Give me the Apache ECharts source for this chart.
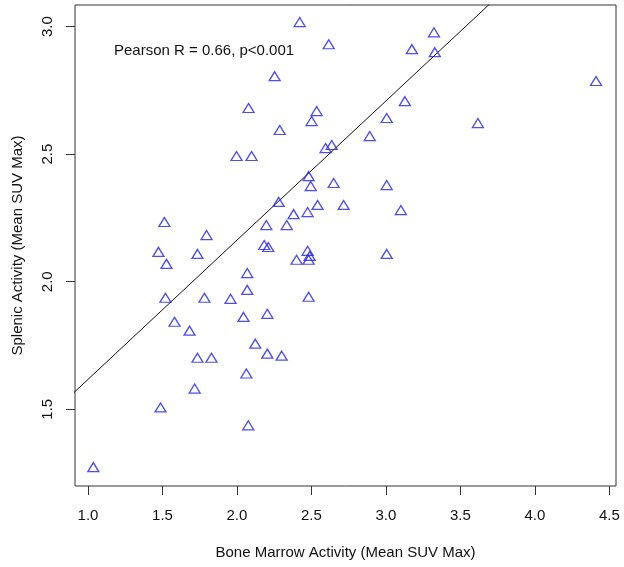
<!DOCTYPE html>
<html>
<head>
<meta charset="utf-8">
<script src="https://cdn.jsdelivr.net/npm/echarts@6/dist/echarts.min.js"></script>
<style>html,body{margin:0;padding:0;background:#fff;}#c{width:624px;height:567px;}</style>
</head>
<body>
<div id="c"></div>
<script>
// Bone marrow activity (x) vs splenic activity (y), Mean SUV Max
const boneMarrow = [
  2.421, 2.616, 3.174, 3.322, 3.328, 2.253, 4.410, 2.078, 2.535, 2.501,
  2.287, 3.127, 3.005, 2.891, 3.617, 1.997, 2.098, 2.595, 2.636, 2.481,
  2.495, 2.649, 3.005, 2.716, 2.541, 3.100, 2.280, 2.474, 2.380, 2.334,
  2.197, 2.183, 2.210, 1.513, 1.473, 1.527, 1.735, 1.796, 2.069, 2.474,
  2.488, 2.481, 2.400, 3.005, 2.069, 1.782, 1.520, 1.957, 2.481, 2.044,
  2.204, 1.581, 1.682, 2.123, 1.735, 1.829, 2.204, 2.300, 2.063, 1.716,
  1.487, 2.076, 1.036
];
const splenic = [
  3.018, 2.931, 2.912, 2.978, 2.900, 2.806, 2.787, 2.681, 2.669, 2.630,
  2.595, 2.708, 2.642, 2.571, 2.622, 2.493, 2.493, 2.524, 2.536, 2.414,
  2.375, 2.387, 2.379, 2.301, 2.301, 2.281, 2.313, 2.273, 2.265, 2.222,
  2.222, 2.144, 2.136, 2.234, 2.117, 2.070, 2.109, 2.183, 2.034, 2.121,
  2.101, 2.086, 2.086, 2.109, 1.968, 1.937, 1.937, 1.933, 1.941, 1.862,
  1.874, 1.843, 1.808, 1.757, 1.702, 1.702, 1.718, 1.710, 1.640, 1.581,
  1.507, 1.437, 1.273
];
// fitted regression line: splenic = intercept + slope * boneMarrow
const fitIntercept = 1.071;
const fitSlope = 0.546;
const xTicks = [1.0, 1.5, 2.0, 2.5, 3.0, 3.5, 4.0, 4.5];
const yTicks = [1.5, 2.0, 2.5, 3.0];
const annotation = 'Pearson R = 0.66, p<0.001';
const xTitle = 'Bone Marrow Activity (Mean SUV Max)';
const yTitle = 'Splenic Activity (Mean SUV Max)';

const X_MIN = 0.913, X_MAX = 4.544, Y_MIN = 1.199, Y_MAX = 3.085;
const points = boneMarrow.map((x, i) => [x, splenic[i]]);
const fitLine = [X_MIN - 0.1, X_MAX + 0.1].map(x => [x, fitIntercept + fitSlope * x]);

const FONT = '"Liberation Sans", Arial, Helvetica, sans-serif';
const chart = echarts.init(document.getElementById('c'), null, {renderer: 'canvas'});
chart.setOption({
  animation: false,
  backgroundColor: '#ffffff',
  grid: {left: 75, right: 8, top: 5, bottom: 81, show: true, borderColor: '#333', borderWidth: 1, backgroundColor: 'transparent'},
  xAxis: {
    type: 'value', min: X_MIN, max: X_MAX,
    name: xTitle, nameLocation: 'middle', nameGap: 59,
    nameTextStyle: {fontFamily: FONT, fontSize: 15, color: '#111'},
    axisLine: {show: false},
    splitLine: {show: false},
    axisTick: {show: true, customValues: xTicks, length: 9, lineStyle: {color: '#333', width: 1}},
    axisLabel: {customValues: xTicks, formatter: v => v.toFixed(1), margin: 22, fontFamily: FONT, fontSize: 15, color: '#111'}
  },
  yAxis: {
    type: 'value', min: Y_MIN, max: Y_MAX,
    name: yTitle, nameLocation: 'middle', nameGap: 50, nameRotate: 90,
    nameTextStyle: {fontFamily: FONT, fontSize: 15, color: '#111'},
    axisLine: {show: false},
    splitLine: {show: false},
    axisTick: {show: true, customValues: yTicks, length: 9, lineStyle: {color: '#333', width: 1}},
    axisLabel: {customValues: yTicks, formatter: v => v.toFixed(1), rotate: 90, margin: 20, fontFamily: FONT, fontSize: 15, color: '#111'}
  },
  series: [
    {
      type: 'line', data: fitLine, showSymbol: false, symbol: 'none', clip: true,
      lineStyle: {color: '#111', width: 1}, z: 2, silent: true
    },
    {
      type: 'scatter', data: points, symbol: 'triangle', symbolSize: [11, 9],
      itemStyle: {color: 'rgba(0,0,0,0)', borderColor: '#2020f0', borderWidth: 1.3}, z: 3
    }
  ],
  graphic: [{
    type: 'text', left: 114, top: 43,
    style: {text: annotation, font: '15px ' + FONT, fill: '#111'}
  }]
});
</script>
</body>
</html>
